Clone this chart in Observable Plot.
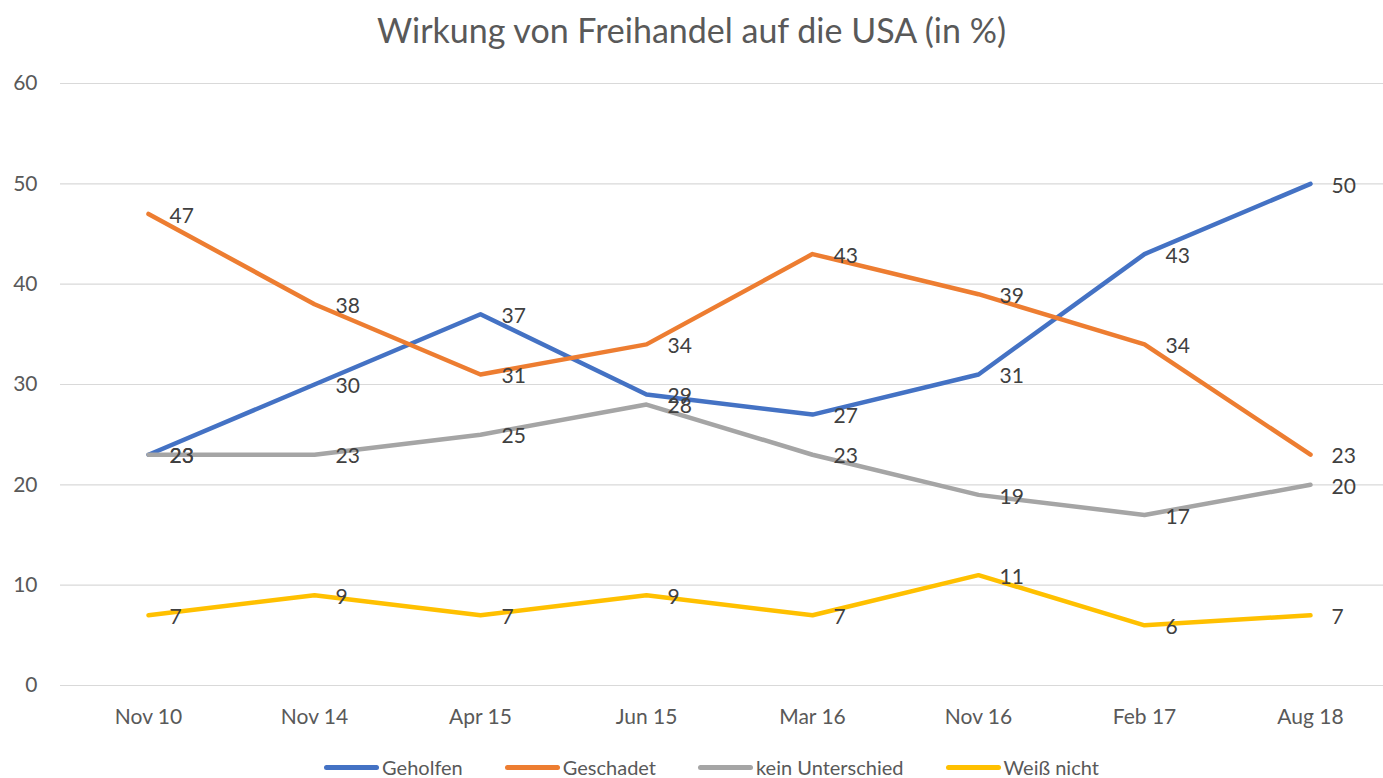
<!DOCTYPE html>
<html>
<head>
<meta charset="utf-8">
<script src="https://cdn.jsdelivr.net/npm/d3@7"></script>
<script src="https://cdn.jsdelivr.net/npm/@observablehq/plot@0.6"></script>
<style>
  body { margin: 0; background: #fff; font-family: Lato, "Open Sans", sans-serif; overflow: hidden; }
  #title { height: 60px; line-height: 60px; text-align: center; font-size: 34px; color: #595959; }
  #legend { display: flex; justify-content: center; align-items: center; gap: 42px; font-size: 20px; color: #595959; height: 50px; margin-left: 40px; }
  .item { display: flex; align-items: center; gap: 3px; }
  .sw { width: 55px; height: 5px; border-radius: 3px; }
</style>
</head>
<body>
<div id="title">Wirkung von Freihandel auf die USA (in %)</div>
<div id="chart"></div>
<div id="legend"></div>
<script>
const categories = ["Nov 10", "Nov 14", "Apr 15", "Jun 15", "Mar 16", "Nov 16", "Feb 17", "Aug 18"];
const seriesNames = ["Geholfen", "Geschadet", "kein Unterschied", "Weiß nicht"];
const geholfen = [23, 30, 37, 29, 27, 31, 43, 50];
const geschadet = [47, 38, 31, 34, 43, 39, 34, 23];
const keinUnterschied = [23, 23, 25, 28, 23, 19, 17, 20];
const weissNicht = [7, 9, 7, 9, 7, 11, 6, 7];
const colors = ["#4472C4", "#ED7D31", "#A5A5A5", "#FFC000"];
const yTicks = [0, 10, 20, 30, 40, 50, 60];

const seriesValues = [geholfen, geschadet, keinUnterschied, weissNicht];
const data = [];
seriesNames.forEach((s, si) => categories.forEach((c, i) => data.push({series: s, cat: c, value: seriesValues[si][i]})));

const chart = Plot.plot({
  width: 1383,
  height: 682,
  marginLeft: 60,
  marginRight: 0,
  marginTop: 0,
  marginBottom: 57,
  style: {fontFamily: "Lato, 'Open Sans', sans-serif", fontSize: "21px", color: "#595959", background: "#fff"},
  x: {type: "point", domain: categories, range: [145, 1312], padding: 0, label: null},
  y: {domain: [0, 60], range: [625, 23], label: null},
  color: {domain: seriesNames, range: colors},
  marks: [
    Plot.ruleY(yTicks, {stroke: "#d9d9d9", strokeWidth: 1.2}),
    Plot.axisY({ticks: yTicks, tickSize: 0, tickPadding: 0, dx: -23, textAnchor: "end", fill: "#595959", fontSize: 21, label: null}),
    Plot.axisX({tickSize: 0, tickPadding: 24, fill: "#595959", fontSize: 21, label: null}),
    Plot.line(data, {x: "cat", y: "value", z: "series", stroke: "series", strokeWidth: 4.5, strokeLinecap: "round", strokeLinejoin: "round"}),
    Plot.text(data, {x: "cat", y: "value", text: d => String(d.value), dx: 21, dy: 2, textAnchor: "start", fill: "#404040", fontSize: 21})
  ]
});
document.getElementById("chart").appendChild(chart);

const legend = document.getElementById("legend");
seriesNames.forEach((s, i) => {
  const item = document.createElement("div");
  item.className = "item";
  const sw = document.createElement("div");
  sw.className = "sw";
  sw.style.background = colors[i];
  const lab = document.createElement("span");
  lab.textContent = s;
  item.appendChild(sw);
  item.appendChild(lab);
  legend.appendChild(item);
});
</script>
</body>
</html>
